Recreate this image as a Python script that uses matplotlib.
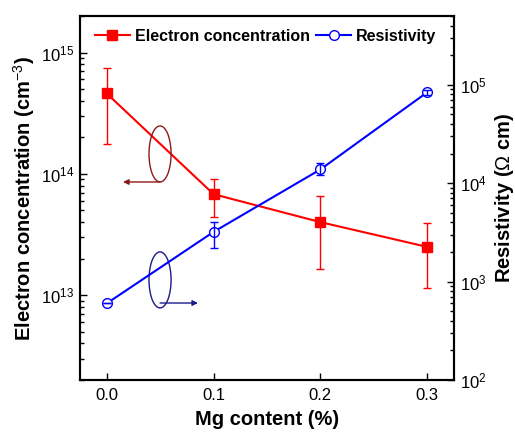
import matplotlib
matplotlib.use("Agg")
import matplotlib.pyplot as plt
from matplotlib.patches import Ellipse
import numpy as np

plt.rcParams['font.family'] = ['Liberation Sans', 'DejaVu Sans']
plt.rcParams['mathtext.fontset'] = 'custom'
plt.rcParams['mathtext.rm'] = 'Liberation Sans'
plt.rcParams['mathtext.it'] = 'Liberation Sans:italic'
plt.rcParams['mathtext.bf'] = 'Liberation Sans:bold'

# Data
mg = [0.0, 0.1, 0.2, 0.3]
n_e = [4.6e14, 6.8e13, 4.0e13, 2.5e13]
n_e_hi = [7.5e14, 9.1e13, 6.6e13, 3.9e13]
n_e_lo = [1.76e14, 4.4e13, 1.65e13, 1.15e13]
rho = [600, 3200, 13800, 84000]
rho_hi = [600, 4040, 15900, 89000]
rho_lo = [600, 2220, 12050, 79000]
xticks = [0.0, 0.1, 0.2, 0.3]

fig = plt.figure(figsize=(5.15, 4.34), dpi=100)
ax = fig.add_axes([80/515, 54/434, 374/515, 364/434])
ax2 = ax.twinx()

n_e_a = np.array(n_e)
rho_a = np.array(rho)
yerr1 = [n_e_a - np.array(n_e_lo), np.array(n_e_hi) - n_e_a]
yerr2 = [rho_a - np.array(rho_lo), np.array(rho_hi) - rho_a]

red = '#ff0000'
blue = '#0000ff'
l1, = ax.plot(mg, n_e, color=red, marker='s', markersize=7, lw=1.5, zorder=3)
ax.errorbar(mg, n_e, yerr=yerr1, fmt='none', ecolor=red, elinewidth=1,
            capsize=3, capthick=1, zorder=4)
l2, = ax2.plot(mg, rho, color=blue, marker='o', markersize=7,
               markerfacecolor='white', markeredgewidth=1, lw=1.5, zorder=3)
ax2.errorbar(mg, rho, yerr=yerr2, fmt='none', ecolor=blue, elinewidth=1,
             capsize=3, capthick=1, zorder=4)

ax.set_yscale('log')
ax2.set_yscale('log')
ax.set_ylim(2e12, 2e15)
ax2.set_ylim(100, 5e5)
ax.set_xlim(-0.025, 0.325)
ax.set_xticks(xticks)
ax.set_xticklabels([f'{v:.1f}' for v in xticks])

for a in (ax, ax2):
    a.tick_params(which='both', direction='in', labelsize=12)
    a.tick_params(which='major', length=5, width=1)
    a.tick_params(which='minor', length=3, width=1)
    for s in a.spines.values():
        s.set_linewidth(1.5)
ax.tick_params(axis='x', length=5, pad=6)
ax.tick_params(axis='y', pad=4)
ax2.tick_params(axis='y', pad=4)
ax2.set_yticks([1e2, 1e3, 1e4, 1e5])

ax.set_xlabel('Mg content (%)', fontsize=14.5, fontweight='bold', labelpad=5)
ax.set_ylabel('Electron concentration (cm$^{-3}$)', fontsize=14.5, fontweight='bold', labelpad=3)
ax2.set_ylabel('Resistivity ($\\Omega$ cm)', fontsize=14.5, fontweight='bold', labelpad=5)

# Ellipse annotations
e1 = Ellipse((0.214, 0.621), 0.059, 0.154, transform=ax.transAxes,
             fill=False, edgecolor='#8b1a1a', lw=1, zorder=4)
ax.add_patch(e1)
ax.annotate('', xy=(0.115, 0.544), xytext=(0.214, 0.544),
            xycoords='axes fraction', textcoords='axes fraction',
            arrowprops=dict(arrowstyle='-|>', color='#8b1a1a', lw=1,
                            mutation_scale=8, shrinkA=0, shrinkB=0))
e2 = Ellipse((0.214, 0.275), 0.059, 0.154, transform=ax.transAxes,
             fill=False, edgecolor='#1a1a8b', lw=1, zorder=4)
ax.add_patch(e2)
ax.annotate('', xy=(0.3155, 0.2115), xytext=(0.214, 0.2115),
            xycoords='axes fraction', textcoords='axes fraction',
            arrowprops=dict(arrowstyle='-|>', color='#1a1a8b', lw=1,
                            mutation_scale=8, shrinkA=0, shrinkB=0))

leg = ax2.legend([l1, l2], ['Electron concentration', 'Resistivity'],
                 loc='upper left', bbox_to_anchor=(0.01, 0.995), ncol=2,
                 frameon=False, prop={'weight': 'bold', 'size': 11.5},
                 handlelength=2.2, handletextpad=0.3, columnspacing=0.4,
                 borderaxespad=0.3)

fig.savefig('out.png', dpi=100)
